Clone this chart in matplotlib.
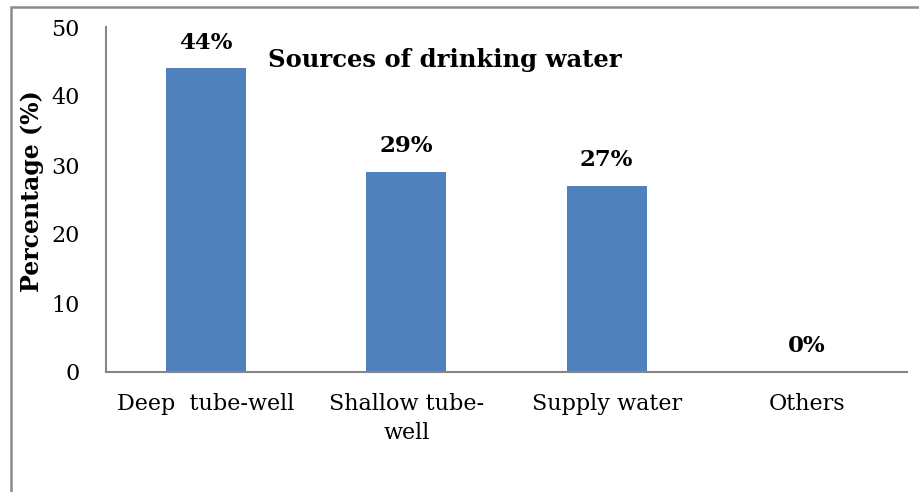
import matplotlib
matplotlib.use('Agg')
import matplotlib.pyplot as plt
from matplotlib.patches import Rectangle

# Data
categories = ['Deep  tube-well', 'Shallow tube-\nwell', 'Supply water', 'Others']
values = [44, 29, 27, 0]
value_labels = ['44%', '29%', '27%', '0%']
yticks = [0, 10, 20, 30, 40, 50]

plt.rcParams['font.family'] = ['DejaVu Serif']

fig = plt.figure(figsize=(9.19, 4.92), dpi=100)
ax = fig.add_axes([106 / 919, 1 - 372 / 492, (907 - 106) / 919, (372 - 27) / 492])

x = range(len(categories))
ax.bar(x, values, width=0.4, color='#4F81BD')

for xi, v, lab in zip(x, values, value_labels):
    ax.text(xi, v + 3.7, lab, ha='center', va='center', fontsize=16.5, fontweight='bold')

ax.set_xlim(-0.5, len(categories) - 0.5)
ax.set_ylim(0, 50)
ax.set_yticks(yticks)
ax.set_xticks(list(x))
ax.set_xticklabels(categories, fontsize=16, linespacing=1.45)
ax.tick_params(axis='y', length=0, pad=19, labelsize=16)
ax.tick_params(axis='x', length=0, pad=15)

ax.set_ylabel('Percentage (%)', fontsize=17, fontweight='bold')
ax.yaxis.set_label_coords(-62 / 801, 0.525)

ax.text(0.423, 0.905, 'Sources of drinking water', transform=ax.transAxes,
        ha='center', va='center', fontsize=17.5, fontweight='bold')

for side in ['top', 'right']:
    ax.spines[side].set_visible(False)
for side in ['left', 'bottom']:
    ax.spines[side].set_color('#868686')
    ax.spines[side].set_linewidth(1.5)

# outer chart border (partly cropped in the original)
border = Rectangle((10.5 / 919, -0.1), 1.2, 1.1 - 6.5 / 492,
                   transform=fig.transFigure, fill=False,
                   edgecolor='#8c8c8c', linewidth=1.8, clip_on=False)
fig.patches.append(border)

fig.savefig('out.png', dpi=100)
